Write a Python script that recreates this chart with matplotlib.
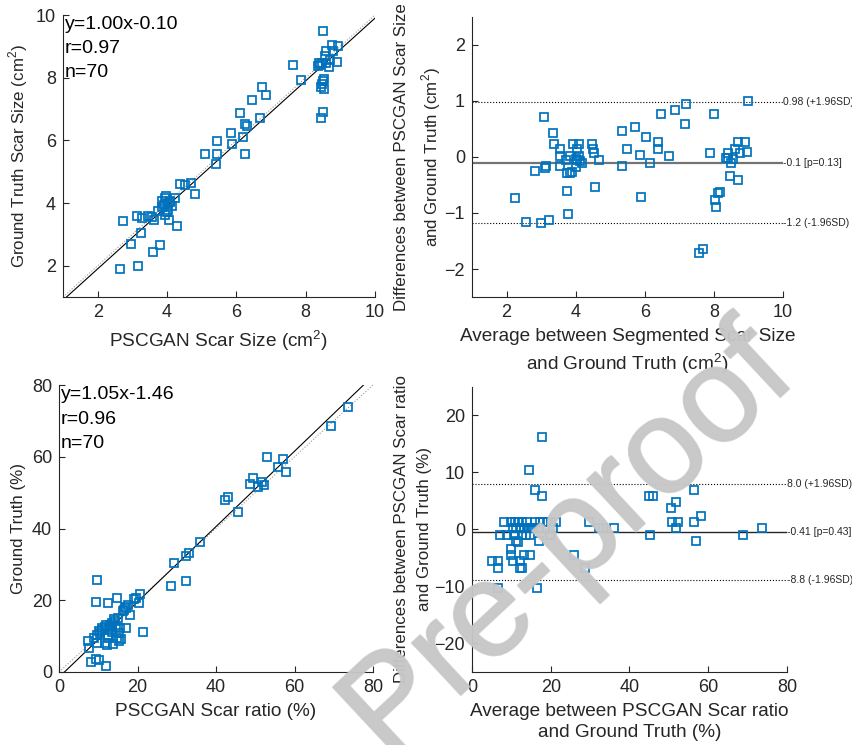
import numpy as np
import matplotlib.pyplot as plt
import matplotlib.transforms as mtransforms
import matplotlib.patheffects as pe

plt.rcParams['font.family'] = ['Liberation Sans', 'DejaVu Sans']
plt.rcParams['mathtext.fontset'] = 'custom'
plt.rcParams['mathtext.rm'] = 'Liberation Sans'

# --- scar size: PSCGAN vs ground truth (cm^2) ---
size_pscgan = [8.49, 8.75, 8.94, 8.58, 8.78, 8.56, 8.38, 8.48, 8.60, 8.36,
               8.67, 8.91, 8.49, 8.46, 8.43, 8.54, 8.49, 8.43, 7.88, 7.64,
               6.75, 6.86, 6.46, 6.11, 6.69, 5.86, 6.26, 6.30, 6.20, 5.87,
               5.44, 5.11, 5.44, 6.26, 5.41, 4.69, 4.37, 4.52, 4.82, 3.97,
               4.23, 4.09, 3.85, 4.04, 4.13, 3.85, 3.75, 4.04, 3.94, 3.46,
               3.56, 3.14, 3.27, 3.63, 4.07, 2.74, 4.30, 3.24, 2.95, 3.81,
               3.60, 3.16, 2.64, 3.95, 4.00, 3.92, 4.10, 8.52, 8.40, 8.70]
size_gt = [9.50, 9.03, 9.02, 8.86, 8.84, 8.70, 8.46, 8.48, 8.48, 8.36,
           8.34, 8.51, 7.88, 7.80, 7.69, 7.65, 6.89, 6.72, 7.93, 8.42,
           7.70, 7.45, 7.30, 6.88, 6.73, 6.22, 6.51, 6.46, 6.11, 5.89,
           5.99, 5.57, 5.58, 5.55, 5.25, 4.64, 4.60, 4.59, 4.28, 4.21,
           4.16, 4.08, 4.08, 4.00, 3.92, 3.87, 3.74, 3.78, 3.63, 3.60,
           3.57, 3.58, 3.52, 3.46, 3.46, 3.44, 3.27, 3.05, 2.69, 2.67,
           2.43, 2.00, 1.89, 4.15, 3.70, 3.95, 4.02, 7.95, 8.40, 8.55]
size_fit = (1.00, -0.10)
size_stats = ['y=1.00x-0.10', 'r=0.97', 'n=70']

# --- scar size Bland-Altman ---
size_avg = [8.99, 7.20, 6.87, 7.16, 6.48, 8.01, 5.71, 5.33, 6.03, 3.08,
            3.35, 3.36, 3.54, 3.54, 3.93, 4.10, 4.04, 4.48, 4.51, 4.53,
            4.67, 3.85, 4.10, 3.73, 4.00, 4.12, 4.19, 4.00, 3.54, 3.14,
            3.12, 3.90, 3.75, 3.83, 2.81, 3.75, 3.78, 2.25, 2.56, 3.01,
            3.23, 4.55, 5.50, 5.33, 5.87, 6.14, 6.38, 6.38, 6.69, 5.89,
            7.90, 8.34, 8.41, 8.60, 8.70, 8.89, 8.97, 8.77, 8.55, 8.50,
            8.48, 8.69, 8.19, 8.12, 8.02, 8.07, 7.69, 7.57, 8.40, 4.05]
size_diff = [1.00, 0.95, 0.83, 0.58, 0.76, 0.76, 0.54, 0.46, 0.36, 0.71,
             0.42, 0.24, 0.14, 0.02, 0.24, 0.24, 0.14, 0.24, 0.15, 0.07,
             -0.05, 0.02, 0.02, -0.06, -0.04, -0.08, -0.10, -0.18, -0.17, -0.17,
             -0.20, -0.26, -0.28, -0.28, -0.25, -0.61, -1.02, -0.73, -1.16, -1.17,
             -1.13, -0.53, 0.14, -0.17, 0.03, -0.11, 0.26, 0.15, 0.02, -0.71,
             0.07, -0.01, 0.07, 0.15, 0.26, 0.27, 0.08, 0.07, -0.03, -0.11,
             -0.34, -0.41, -0.62, -0.65, -0.77, -0.89, -1.64, -1.72, -0.02, -0.06]
size_mean = -0.10
size_limits = [0.98, -1.17]
size_line_labels = ['0.98 (+1.96SD)', '-0.1 [p=0.13]', '-1.2 (-1.96SD)']

# --- scar ratio: PSCGAN vs ground truth (%) ---
ratio_pscgan = [73.6, 69.3, 53.0, 57.0, 55.9, 57.8, 49.4, 48.7, 51.7, 52.2,
                50.6, 43.0, 42.2, 45.7, 35.8, 33.2, 32.3, 29.2, 32.3, 28.5,
                9.6, 9.3, 12.6, 14.7, 20.6, 19.6, 20.4, 17.7, 17.1, 16.6,
                18.1, 15.1, 14.3, 13.4, 10.9, 11.7, 15.5, 17.0, 21.5, 9.6,
                8.9, 10.4, 12.6, 13.4, 15.4, 12.4, 14.7, 15.8, 15.4, 7.5,
                9.6, 11.7, 12.2, 13.7, 7.7, 8.2, 9.4, 10.3, 11.9, 13.0,
                14.0, 12.0, 11.0, 16.2, 12.8, 14.6, 10.2, 19.2, 16.9, 13.5]
ratio_gt = [73.8, 68.5, 60.0, 59.4, 57.2, 55.8, 54.2, 52.5, 53.0, 52.1,
            51.6, 48.9, 48.0, 44.7, 36.1, 33.3, 32.4, 30.5, 25.4, 23.9,
            25.6, 19.6, 19.3, 20.5, 21.7, 20.5, 19.1, 18.7, 17.9, 17.3,
            15.9, 15.0, 14.2, 13.6, 12.2, 12.6, 12.4, 12.4, 11.2, 10.3,
            9.6, 10.8, 10.3, 11.1, 10.8, 9.4, 9.4, 9.1, 8.6, 8.6,
            8.0, 8.0, 7.5, 7.9, 6.8, 2.7, 3.6, 3.3, 1.8, 13.0,
            14.8, 13.2, 11.8, 17.0, 12.0, 12.5, 11.5, 20.3, 18.2, 12.8]
ratio_fit = (1.05, -1.46)
ratio_stats = ['y=1.05x-1.46', 'r=0.96', 'n=70']

# --- scar ratio Bland-Altman ---
ratio_avg = [73.6, 68.9, 58.1, 56.4, 56.8, 56.4, 50.6, 51.7, 50.9, 52.4,
             51.9, 44.9, 45.9, 45.2, 36.0, 33.4, 32.2, 29.8, 28.8, 26.0,
             17.7, 14.5, 16.0, 17.7, 5.2, 6.6, 6.6, 6.6, 16.4, 7.1,
             8.1, 8.8, 9.9, 10.9, 11.6, 12.8, 9.9, 9.9, 10.5, 11.2,
             10.9, 12.2, 12.2, 13.2, 14.7, 10.3, 11.3, 12.3, 13.3, 14.4,
             15.4, 12.6, 13.8, 14.7, 16.9, 17.1, 17.4, 18.1, 19.0, 20.0,
             21.3, 19.8, 20.7, 12.6, 14.0, 11.8, 13.9, 10.6, 15.0, 16.0]
ratio_diff = [0.2, -0.9, 2.3, 1.3, -2.0, 7.0, 3.7, 4.8, 1.3, 1.3,
              0.2, 5.8, 5.8, -0.9, 0.2, 0.2, 0.2, 1.3, -6.7, -4.5,
              16.2, 10.5, 6.9, 5.8, -5.6, -5.6, -6.7, -10.2, -10.2, -0.9,
              1.3, -0.9, 1.3, 1.3, 1.3, 1.3, -3.4, -4.5, -5.6, -2.0,
              -0.9, -5.6, -6.7, -4.5, -4.5, 0.2, 0.2, 0.2, 0.2, 0.2,
              0.2, -0.9, -0.9, -0.9, 0.2, -2.0, 1.3, 1.3, 1.3, 1.3,
              1.3, -0.9, 0.2, -6.7, 1.3, -2.2, 0.2, -0.9, 0.2, 1.3]
ratio_mean = -0.41
ratio_limits = [8.0, -8.8]
ratio_line_labels = ['8.0 (+1.96SD)', '-0.41 [p=0.43]', '-8.8 (-1.96SD)']

blue = '#0072BD'
txt = '#262626'
tick_fs = 13
xlabel_fs = 13.7
ylabel_fs = 12.2


def style(ax, xlim, ylim, xticks, yticks):
    ax.set_xlim(xlim)
    ax.set_ylim(ylim)
    ax.set_xticks(xticks)
    ax.set_yticks(yticks)
    ax.spines['top'].set_visible(False)
    ax.spines['right'].set_visible(False)
    for s in ['left', 'bottom']:
        ax.spines[s].set_color(txt)
        ax.spines[s].set_linewidth(0.8)
    ax.tick_params(direction='in', length=4, width=0.8, colors=txt,
                   labelsize=tick_fs, pad=5)


def scatter_panel(ax, x, y, fit, stats, lim, ticks, xlabel, ylabel, ylab_x):
    style(ax, lim, lim, ticks, ticks)
    ax.plot(lim, lim, ls=':', color='0.6', lw=0.8)
    fx = np.array(lim, dtype=float)
    ax.plot(fx, fit[0] * fx + fit[1], color='k', lw=0.8)
    ax.plot(x, y, 's', ms=6, mfc='none', mec=blue, mew=1.25)
    for i, s in enumerate(stats):
        ax.text(0.005, 0.995 - i * 0.084, s, transform=ax.transAxes,
                fontsize=14, va='top', ha='left', color='k')
    ax.set_xlabel(xlabel, fontsize=xlabel_fs, color=txt, labelpad=5)
    ax.set_ylabel(ylabel, fontsize=ylabel_fs, color=txt)
    ax.yaxis.set_label_coords(ylab_x, 0.5)


def ba_panel(ax, x, d, mean, limits, labels, xlim, ylim, xticks, yticks,
             xlabel, ylabel, mean_color, mean_lw, ylab_x):
    style(ax, xlim, ylim, xticks, yticks)
    trans = mtransforms.blended_transform_factory(ax.transAxes, ax.transData)
    for v in limits:
        ax.axhline(v, color='k', ls=':', lw=0.8)
    ax.axhline(mean, color=mean_color, lw=mean_lw)
    for v, lab in zip([limits[0], mean, limits[1]], labels):
        ax.text(1.0, v, lab, transform=trans, fontsize=7.5, va='center',
                ha='left', color=txt, clip_on=False)
    ax.plot(x, d, 's', ms=6, mfc='none', mec=blue, mew=1.25)
    ax.set_xlabel(xlabel, fontsize=xlabel_fs, color=txt, linespacing=1.35,
                  labelpad=5)
    ax.set_ylabel(ylabel, fontsize=ylabel_fs, color=txt, linespacing=1.6)
    ax.yaxis.set_label_coords(ylab_x, 0.5)


fig = plt.figure(figsize=(8.53, 7.45), dpi=100)

ax1 = fig.add_axes([0.0739, 0.6013, 0.3657, 0.3785])
scatter_panel(ax1, size_pscgan, size_gt, size_fit, size_stats, [1, 10],
              [2, 4, 6, 8, 10], 'PSCGAN Scar Size (cm$^2$)',
              'Ground Truth Scar Size (cm$^2$)', -0.105)

ax2 = fig.add_axes([0.5533, 0.6013, 0.3646, 0.3760])
ba_panel(ax2, size_avg, size_diff, size_mean, size_limits, size_line_labels,
         [1, 10], [-2.5, 2.5], [2, 4, 6, 8, 10], [-2, -1, 0, 1, 2],
         'Average between Segmented Scar Size\nand Ground Truth (cm$^2$)',
         'Differences between PSCGAN Scar Size\nand Ground Truth (cm$^2$)',
         '0.45', 1.6, -0.092)

ax3 = fig.add_axes([0.0692, 0.0980, 0.3681, 0.3852])
scatter_panel(ax3, ratio_pscgan, ratio_gt, ratio_fit, ratio_stats, [0, 80],
              [0, 20, 40, 60, 80], 'PSCGAN Scar ratio (%)', 'Ground Truth (%)',
              -0.105)

ax4 = fig.add_axes([0.5533, 0.0980, 0.3693, 0.3826])
ba_panel(ax4, ratio_avg, ratio_diff, ratio_mean, ratio_limits,
         ratio_line_labels, [0, 80], [-25, 25], [0, 20, 40, 60, 80],
         [-20, -10, 0, 10, 20],
         'Average between PSCGAN Scar ratio\nand Ground Truth (%)',
         'Differences between PSCGAN Scar ratio\nand Ground Truth (%)',
         '0.15', 1.0, -0.128)

# watermark
fig.text(0.668, 0.268, 'Pre-proof', rotation=43, fontsize=97, color='0.78',
         alpha=0.8, ha='center', va='center', zorder=10,
         path_effects=[pe.withStroke(linewidth=1.6, foreground='0.78')])

fig.savefig('out.png', dpi=100)
